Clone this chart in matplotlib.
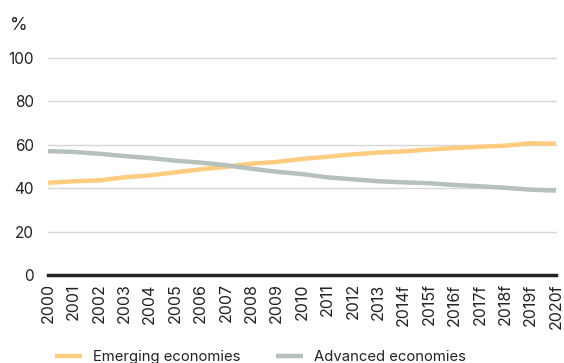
import matplotlib.pyplot as plt

plt.rcParams['font.family'] = ['Inter', 'DejaVu Sans']

years = ['2000', '2001', '2002', '2003', '2004', '2005', '2006', '2007', '2008', '2009',
         '2010', '2011', '2012', '2013', '2014f', '2015f', '2016f', '2017f', '2018f',
         '2019f', '2020f']
emerging = [42.5, 43.2, 43.6, 45.0, 45.9, 47.3, 48.7, 49.8, 51.3, 52.1, 53.5,
            54.5, 55.6, 56.4, 57.0, 57.8, 58.5, 59.1, 59.6, 60.7, 60.5]
advanced = [57.1, 56.7, 55.9, 54.8, 53.9, 52.7, 51.8, 50.6, 49.0, 47.6, 46.5,
            45.0, 44.1, 43.2, 42.7, 42.3, 41.5, 40.9, 40.2, 39.3, 38.9]
yticks = [0, 20, 40, 60, 80, 100]

fig = plt.figure(figsize=(5.64, 3.63), dpi=100)
ax = fig.add_axes([48 / 564, 88 / 363, 508 / 564, 217 / 363])

x = range(len(years))
ax.plot(x, emerging, color='#FFCC80', lw=3.2, solid_capstyle='butt', label='Emerging economies', zorder=3)
ax.plot(x, advanced, color='#B5C1B9', lw=3.2, solid_capstyle='butt', label='Advanced economies', zorder=3)

ax.set_xlim(0, len(years) - 1)
ax.set_ylim(0, 100)
ax.set_yticks(yticks)
ax.set_yticklabels([str(v) for v in yticks], fontsize=11, color='#222222')
ax.set_xticks(list(x))
ax.set_xticklabels(years, rotation=90, fontsize=11.5, color='#222222')
ax.tick_params(axis='both', length=0)
ax.tick_params(axis='y', pad=10)
ax.tick_params(axis='x', pad=6)

for v in yticks[1:]:
    ax.axhline(v, color='#D6D6D6', lw=1, zorder=1, clip_on=False)
ax.axhline(0, color='#222222', lw=2.5, zorder=4, clip_on=False)

for s in ax.spines.values():
    s.set_visible(False)

fig.text(10 / 564, 1 - 25 / 363, '%', fontsize=13, color='#222222', va='center', ha='left')

fig.legend(loc='center left', bbox_to_anchor=(55 / 564, 1 - 357 / 363), ncol=2,
           frameon=False, fontsize=10.7, handlelength=1.85, columnspacing=2.35,
           handletextpad=0.74, borderpad=0, borderaxespad=0, labelcolor='#222222')

fig.savefig('out.png', dpi=100)
